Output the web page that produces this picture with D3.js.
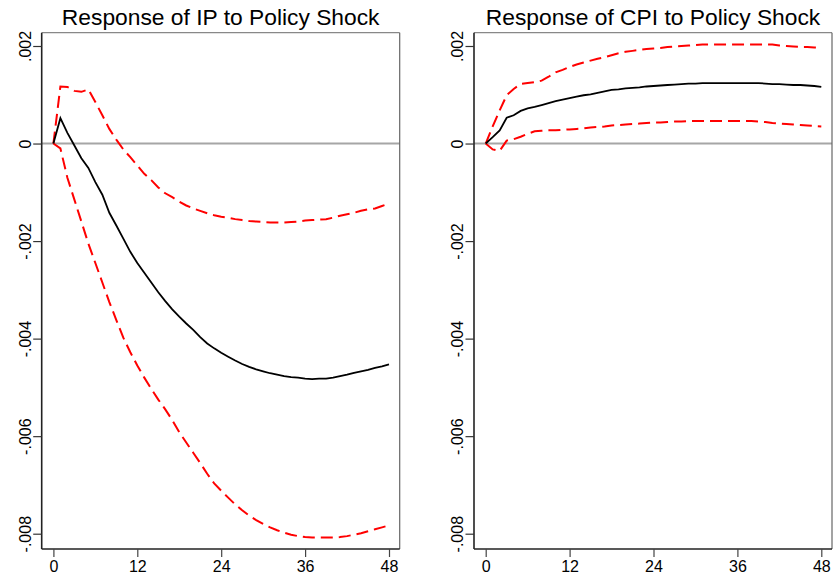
<!DOCTYPE html>
<html>
<head>
  <meta charset="utf-8">
  <script src="https://d3js.org/d3.v7.min.js"></script>
  <style>
    body { margin: 0; background: #fff; }
    svg { display: block; font-family: "Liberation Sans", Arial, sans-serif; }
  </style>
</head>
<body>
<svg width="835" height="584"></svg>
<script>
// horizons 0..48
var horizon = d3.range(0, 49);
var xTicks = [0, 12, 24, 36, 48];
var yTicks = [0.002, 0, -0.002, -0.004, -0.006, -0.008];
var yTickLabels = [".002", "0", "-.002", "-.004", "-.006", "-.008"];

// response of IP
var ipMid = [0, 0.00052, 0.00022, -0.00004, -0.0003, -0.0005, -0.00079, -0.00105, -0.00142, -0.00168,
  -0.00195, -0.00222, -0.00245, -0.00265, -0.00285, -0.00305, -0.00323, -0.0034, -0.00355, -0.00369,
  -0.00382, -0.00397, -0.0041, -0.0042, -0.00429, -0.00437, -0.00445, -0.00452, -0.00458, -0.00463,
  -0.00467, -0.00471, -0.00474, -0.00477, -0.00479, -0.0048, -0.00482, -0.00483, -0.00482, -0.00482,
  -0.0048, -0.00477, -0.00474, -0.0047, -0.00467, -0.00464, -0.0046, -0.00457, -0.00453];
var ipHi = [0, 0.00117, 0.00116, 0.00108, 0.00106, 0.00111, 0.00085, 0.00058, 0.0003, 0.00008,
  -0.00012, -0.00028, -0.00045, -0.00062, -0.00075, -0.0009, -0.00102, -0.0011, -0.00119, -0.00127,
  -0.00133, -0.00138, -0.00143, -0.00147, -0.0015, -0.00152, -0.00155, -0.00157, -0.00159, -0.0016,
  -0.00161, -0.00162, -0.00162, -0.00162, -0.00161, -0.0016, -0.00158, -0.00157, -0.00156, -0.00155,
  -0.00152, -0.00148, -0.00145, -0.00142, -0.00138, -0.00135, -0.00133, -0.00128, -0.00123];
var ipLo = [0, -0.0001, -0.0007, -0.00115, -0.0016, -0.00205, -0.00245, -0.00285, -0.00325, -0.00362,
  -0.00398, -0.00428, -0.00455, -0.0048, -0.00503, -0.00525, -0.00545, -0.00567, -0.00592, -0.00613,
  -0.00634, -0.00655, -0.00677, -0.00697, -0.00712, -0.00726, -0.0074, -0.00752, -0.00763, -0.00772,
  -0.0078, -0.00787, -0.00793, -0.00798, -0.00802, -0.00805, -0.00807, -0.00808, -0.00808, -0.00808,
  -0.00808, -0.00807, -0.00805, -0.00802, -0.00799, -0.00795, -0.00791, -0.00787, -0.00783];

// response of CPI
var cpiMid = [0, 0.00013, 0.00027, 0.00053, 0.00058, 0.00067, 0.00072, 0.00075, 0.00079, 0.00083,
  0.00087, 0.0009, 0.00093, 0.00096, 0.00099, 0.00101, 0.00104, 0.00107, 0.0011, 0.00111,
  0.00113, 0.00114, 0.00115, 0.00117, 0.00118, 0.00119, 0.0012, 0.00121, 0.00122, 0.00123,
  0.00123, 0.00124, 0.00124, 0.00124, 0.00124, 0.00124, 0.00124, 0.00124, 0.00124, 0.00124,
  0.00123, 0.00122, 0.00122, 0.00121, 0.0012, 0.0012, 0.00119, 0.00118, 0.00116];
var cpiHi = [0, 0.00035, 0.00068, 0.00099, 0.00112, 0.00122, 0.00124, 0.00126, 0.00129, 0.00137,
  0.00146, 0.00151, 0.00157, 0.00162, 0.00166, 0.0017, 0.00174, 0.00177, 0.00181, 0.00185,
  0.00188, 0.0019, 0.00192, 0.00194, 0.00195, 0.00196, 0.00198, 0.00199, 0.002, 0.00201,
  0.00202, 0.00203, 0.00203, 0.00203, 0.00203, 0.00203, 0.00203, 0.00203, 0.00203, 0.00203,
  0.00203, 0.00203, 0.00201, 0.002, 0.00199, 0.00198, 0.00198, 0.00197, 0.00197];
var cpiLo = [0, -0.00012, -0.00015, 0.00006, 0.00009, 0.00014, 0.0002, 0.00025, 0.00026, 0.00027,
  0.00027, 0.00028, 0.00029, 0.0003, 0.00031, 0.00033, 0.00034, 0.00035, 0.00037, 0.00038,
  0.00039, 0.0004, 0.00041, 0.00042, 0.00043, 0.00043, 0.00044, 0.00045, 0.00045, 0.00046,
  0.00046, 0.00046, 0.00046, 0.00046, 0.00046, 0.00046, 0.00046, 0.00046, 0.00046, 0.00045,
  0.00044, 0.00042, 0.00041, 0.0004, 0.00039, 0.00038, 0.00037, 0.00036, 0.00035];

var svg = d3.select("svg");

var boxW = 358, boxTop = 32.7, boxBottom = 549;

var y = d3.scaleLinear()
    .domain([-0.008, 0.002])
    .range([533.7, 46]);

function drawPanel(left, title, mid, lo, hi) {
  var g = svg.append("g");

  var x = d3.scaleLinear()
      .domain([0, 48])
      .range([left + 11.7, left + 347.3]);

  // title
  g.append("text")
    .attr("x", left + boxW / 2)
    .attr("y", 25)
    .attr("text-anchor", "middle")
    .style("font-size", "22.8px")
    .attr("fill", "#000")
    .text(title);

  // zero line
  g.append("line")
    .attr("x1", left).attr("x2", left + boxW)
    .attr("y1", y(0)).attr("y2", y(0))
    .attr("stroke", "#a6a6a6")
    .attr("stroke-width", 2);

  // box: top and right lighter
  g.append("line")
    .attr("x1", left).attr("x2", left + boxW)
    .attr("y1", boxTop).attr("y2", boxTop)
    .attr("stroke", "#888").attr("stroke-width", 1.2);
  g.append("line")
    .attr("x1", left + boxW).attr("x2", left + boxW)
    .attr("y1", boxTop).attr("y2", boxBottom)
    .attr("stroke", "#666").attr("stroke-width", 1.2);

  var line = d3.line()
      .x(function(d, i) { return x(horizon[i]); })
      .y(function(d) { return y(d); });

  g.append("path").datum(hi)
    .attr("d", line).attr("fill", "none")
    .attr("stroke", "#ff0000").attr("stroke-width", 2)
    .attr("stroke-dasharray", "12,6");
  g.append("path").datum(lo)
    .attr("d", line).attr("fill", "none")
    .attr("stroke", "#ff0000").attr("stroke-width", 2)
    .attr("stroke-dasharray", "12,6");
  g.append("path").datum(mid)
    .attr("d", line).attr("fill", "none")
    .attr("stroke", "#000").attr("stroke-width", 1.8);

  // y axis
  var yAxis = g.append("g")
      .attr("transform", "translate(" + left + ",0)")
      .call(d3.axisLeft(y).tickValues(yTicks).tickSize(8.5).tickFormat(function(d, i) { return yTickLabels[i]; }));
  yAxis.select(".domain").attr("d", "M0," + boxTop + "V" + boxBottom).attr("stroke", "#222").attr("stroke-width", 1.6);
  yAxis.selectAll(".tick line").attr("stroke", "#333").attr("stroke-width", 1.2);
  yAxis.selectAll(".tick text")
    .attr("x", null).attr("dy", null)
    .attr("transform", "translate(-11,0) rotate(-90)")
    .attr("text-anchor", "middle")
    .style("font-size", "16px")
    .style("font-family", "'Liberation Sans', Arial, sans-serif")
    .attr("fill", "#000");

  // x axis
  var xAxis = g.append("g")
      .attr("transform", "translate(0," + boxBottom + ")")
      .call(d3.axisBottom(x).tickValues(xTicks).tickSize(8));
  xAxis.select(".domain").attr("d", "M" + left + ",0H" + (left + boxW)).attr("stroke", "#222").attr("stroke-width", 1.6);
  xAxis.selectAll(".tick line").attr("stroke", "#444").attr("stroke-width", 1.2);
  xAxis.selectAll(".tick text")
    .attr("y", 12).attr("dy", "0.71em")
    .style("font-size", "16px")
    .style("font-family", "'Liberation Sans', Arial, sans-serif")
    .attr("fill", "#000");
}

drawPanel(41.7, "Response of IP to Policy Shock", ipMid, ipLo, ipHi);
drawPanel(474, "Response of CPI to Policy Shock", cpiMid, cpiLo, cpiHi);
</script>
</body>
</html>
